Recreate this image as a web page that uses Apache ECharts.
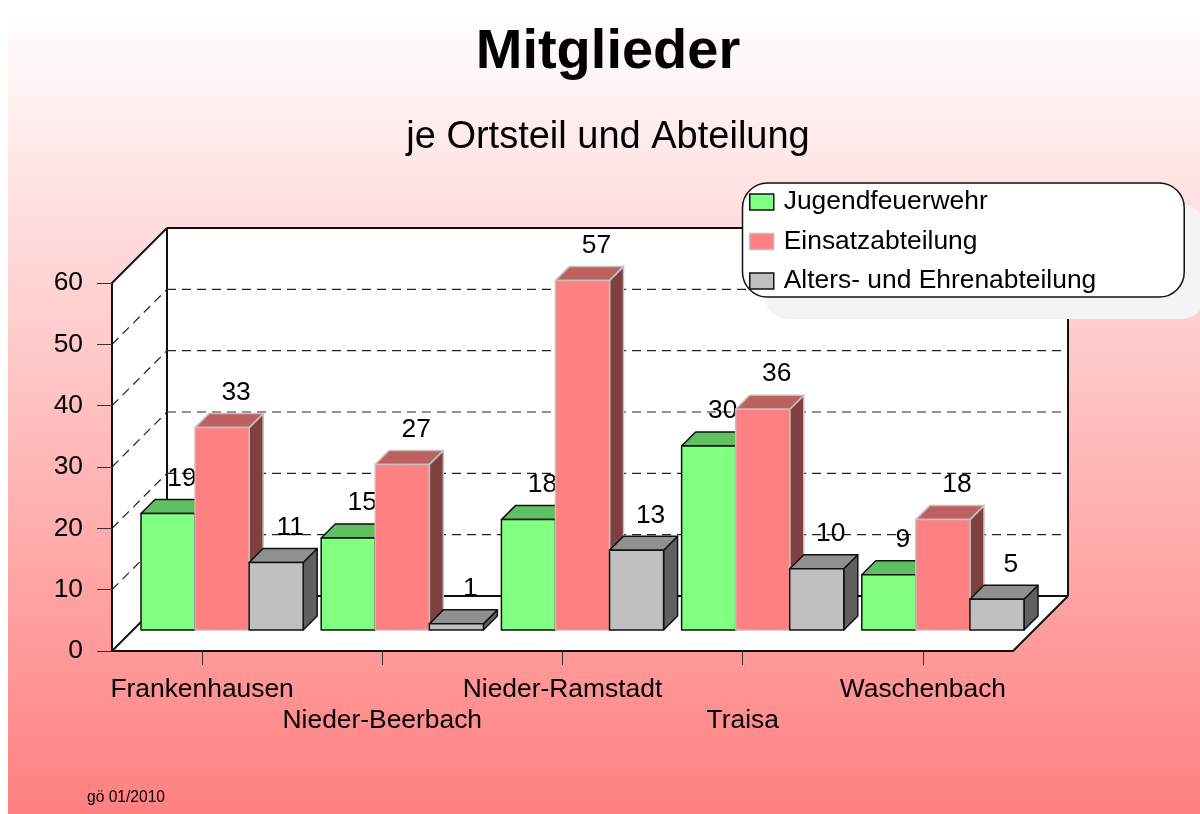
<!DOCTYPE html>
<html><head><meta charset="utf-8">
<style>html,body{margin:0;padding:0;background:#fff}#main{width:1200px;height:814px}</style>
<script src="https://cdn.jsdelivr.net/npm/echarts@6/dist/echarts.min.js"></script>
</head><body><div id="main"></div>
<script>
const categories = ['Frankenhausen','Nieder-Beerbach','Nieder-Ramstadt','Traisa','Waschenbach'];
const jugendfeuerwehr = [19,15,18,30,9];
const einsatzabteilung = [33,27,57,36,18];
const altersEhren = [11,1,13,10,5];
const wallTicks = [0,10,20,30,40,50,60];
const FONT = '"Liberation Sans", Arial, sans-serif';
const WALL_DEPTH = 55, BAR_DEPTH = 14, BAR_SHIFT_X = 20, BAR_SHIFT_Y = 21;

const chart = echarts.init(document.getElementById('main'), null, {renderer:'canvas'});

function wallItem(params, api) {
  const v = api.value(1);
  const half = api.size([1,0])[0] / 2;
  const p = api.coord([0, v]);
  const xL = p[0] - half;
  const xR = api.coord([categories.length - 1, v])[0] + half;
  const y = p[1];
  const dk = WALL_DEPTH;
  const solid = {stroke:'#111', lineWidth:2, fill:null};
  const dash = {stroke:'#222', lineWidth:1.2, lineDash:[9,6], fill:null};
  const children = [];
  if (v === 0) {
    const yTop = api.coord([0, wallTicks[wallTicks.length-1]])[1];
    const white = {fill:'#fff', stroke:null};
    children.push({type:'polygon', shape:{points:[[xL,y],[xL+dk,y-dk],[xL+dk,yTop-dk],[xL,yTop]]}, style:white});
    children.push({type:'rect', shape:{x:xL+dk,y:yTop-dk,width:xR-xL,height:y-yTop}, style:white});
    children.push({type:'polygon', shape:{points:[[xL,y],[xR,y],[xR+dk,y-dk],[xL+dk,y-dk]]}, style:white});
    children.push({type:'line', shape:{x1:xL+dk,y1:y-dk,x2:xL+dk,y2:yTop-dk}, style:solid});
    children.push({type:'line', shape:{x1:xR+dk,y1:y-dk,x2:xR+dk,y2:yTop-dk}, style:solid});
    children.push({type:'line', shape:{x1:xL,y1:y,x2:xL+dk,y2:y-dk}, style:solid});
    children.push({type:'line', shape:{x1:xR,y1:y,x2:xR+dk,y2:y-dk}, style:solid});
    children.push({type:'line', shape:{x1:xL+dk,y1:y-dk,x2:xR+dk,y2:y-dk}, style:solid});
  } else {
    const top = v === wallTicks[wallTicks.length-1];
    const st = top ? solid : dash;
    children.push({type:'line', shape:{x1:xL,y1:y,x2:xL+dk,y2:y-dk}, style:st});
    children.push({type:'line', shape:{x1:xL+dk,y1:y-dk,x2:xR+dk,y2:y-dk}, style:st});
  }
  return {type:'group', children};
}

function barRenderer(seriesPos, col) {
  return function (params, api) {
    const i = params.dataIndex;
    const v = api.value(1);
    const slot = api.size([1,0])[0] * 0.3;
    const center = api.coord([i, 0]);
    const left = center[0] + BAR_SHIFT_X - slot * 1.5 + slot * seriesPos;
    const base = center[1] - BAR_SHIFT_Y;
    const top = api.coord([i, v])[1] - BAR_SHIFT_Y;
    const d = BAR_DEPTH;
    const line = {stroke: col.line, lineWidth: col.lw, lineJoin:'round'};
    return {type:'group', children:[
      {type:'polygon', shape:{points:[[left+slot,top],[left+slot+d,top-d],[left+slot+d,base-d],[left+slot,base]]},
        style:Object.assign({fill:col.side}, line)},
      {type:'polygon', shape:{points:[[left,top],[left+d,top-d],[left+slot+d,top-d],[left+slot,top]]},
        style:Object.assign({fill:col.top}, line)},
      {type:'rect', shape:{x:left,y:top,width:slot,height:base-top},
        style:Object.assign({fill:col.front}, line)},
      {type:'text', style:{x:left+slot/2+d, y:top-d-21, text:String(v), fill:'#000',
        font:'26.4px '+FONT, textAlign:'center', textVerticalAlign:'middle'}}
    ]};
  };
}
const cGreen = {front:'#80ff80', top:'#60bf60', side:'#408040', line:'#111', lw:1.5};
const cRed   = {front:'#ff8080', top:'#bf6060', side:'#804040', line:'#c0c0c0', lw:1.5};
const cGray  = {front:'#c0c0c0', top:'#909090', side:'#606060', line:'#111', lw:1.5};
function barSeries(name, values, pos, col) {
  return {name, type:'custom', z:2, clip:false, renderItem:barRenderer(pos,col),
    encode:{x:0,y:1},
    itemStyle:{color:col.front, borderColor:col.line, borderWidth:1.5},
    data:values.map((v,i)=>[categories[i],v])};
}

chart.setOption({
  animation:false,
  graphic:[
    {type:'rect', z:-1, silent:true, shape:{x:8,y:8,width:1192,height:806},
      style:{fill:new echarts.graphic.LinearGradient(0,0,0,1,[{offset:0,color:'#ffffff'},{offset:1,color:'#ff8080'}])}},
    {type:'rect', z:3, silent:true, shape:{x:763.5,y:204,width:442.5,height:115,r:25}, style:{fill:'#f4f4f4'}}
  ],
  title:[
    {text:'Mitglieder', left:608, top:25, textAlign:'center', padding:0,
      textStyle:{fontFamily:FONT,fontSize:56,fontWeight:'bold',color:'#000'}},
    {text:'je Ortsteil und Abteilung', left:608, top:119, textAlign:'center', padding:0,
      textStyle:{fontFamily:FONT,fontSize:38,fontWeight:'normal',color:'#000'}},
    {text:'gö 01/2010', left:87, top:790, padding:0,
      textStyle:{fontFamily:FONT,fontSize:15.6,fontWeight:'normal',color:'#000'}}
  ],
  legend:{
    orient:'vertical', left:742.5, top:183, align:'left', icon:'rect', z:4,
    padding:[6,88,3,6.5], itemWidth:24, itemHeight:16, itemGap:13.5, selectedMode:false,
    backgroundColor:'#fff', borderColor:'#111', borderWidth:1.5, borderRadius:25,
    textStyle:{fontFamily:FONT,fontSize:26.4,color:'#000',padding:[0,0,0,5]},
    itemStyle:{borderWidth:1.5},
    data:['Jugendfeuerwehr','Einsatzabteilung','Alters- und Ehrenabteilung']
  },
  grid:{left:112,right:187,top:283,bottom:163,containLabel:false},
  xAxis:{type:'category',data:categories,z:1,
    axisLine:{show:true,lineStyle:{color:'#111',width:2}},
    axisTick:{show:true,alignWithLabel:true,length:14,lineStyle:{color:'#333',width:1}},
    axisLabel:{interval:0,margin:23,fontFamily:FONT,fontSize:26.4,color:'#000',lineHeight:31,
      hideOverlap:false,
      formatter:(v,i)=> i%2 ? '\n'+v : v}
  },
  yAxis:{type:'value',min:0,max:60,interval:10,z:1,
    axisLine:{show:true,lineStyle:{color:'#111',width:2}},
    axisTick:{show:true,length:15,lineStyle:{color:'#333',width:1}},
    axisLabel:{margin:29,fontFamily:FONT,fontSize:26.4,color:'#000',padding:[4,0,0,0]},
    splitLine:{show:false}
  },
  series:[
    {name:'wall',type:'custom',z:0,clip:false,silent:true,renderItem:wallItem,encode:{x:0,y:1},
      data:wallTicks.map(v=>[categories[0],v])},
    barSeries('Jugendfeuerwehr',jugendfeuerwehr,0,cGreen),
    barSeries('Einsatzabteilung',einsatzabteilung,1,cRed),
    barSeries('Alters- und Ehrenabteilung',altersEhren,2,cGray)
  ]
});
</script></body></html>
